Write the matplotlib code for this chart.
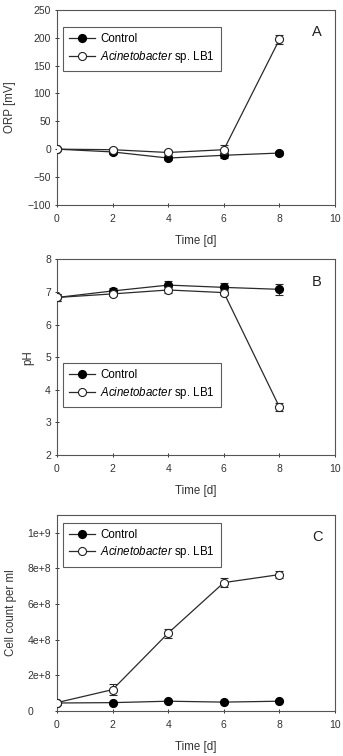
import numpy as np
import matplotlib
matplotlib.use("Agg")
import matplotlib.pyplot as plt

plt.rcParams['font.family'] = ['Liberation Sans', 'DejaVu Sans']
plt.rcParams['mathtext.fontset'] = 'custom'
plt.rcParams['mathtext.rm'] = 'Liberation Sans'
plt.rcParams['mathtext.it'] = 'Liberation Sans:italic'

days = [0, 2, 4, 6, 8]

orp_ctrl = [0, -5, -16, -11, -7]
orp_ctrl_err = [2, 3, 4, 4, 3]
orp_acin = [0, -1, -6, -1, 197]
orp_acin_err = [2, 3, 4, 8, 8]

ph_ctrl = [6.83, 7.03, 7.21, 7.14, 7.08]
ph_ctrl_err = [0.1, 0.1, 0.12, 0.14, 0.17]
ph_acin = [6.83, 6.94, 7.06, 6.98, 3.47]
ph_acin_err = [0.1, 0.06, 0.1, 0.08, 0.13]

cell_ctrl = [4.5e7, 4.7e7, 5.5e7, 5.0e7, 5.5e7]
cell_ctrl_err = [5e6, 5e6, 5e6, 5e6, 5e6]
cell_acin = [4.7e7, 1.2e8, 4.37e8, 7.2e8, 7.65e8]
cell_acin_err = [5e6, 3e7, 2.5e7, 2.5e7, 2e7]
# the "0" label sits left of the others in the original
cell_ticklabels = ['0      ', '2e+8', '4e+8', '6e+8', '8e+8', '1e+9']

fig = plt.figure(figsize=(3.43, 7.56), dpi=100)

panels = [
    dict(rect=[0.166, 0.729, 0.811, 0.258], ctrl=orp_ctrl, ce=orp_ctrl_err,
         acin=orp_acin, ae=orp_acin_err, ylim=(-100, 250),
         yticks=np.arange(-100, 251, 50), ylabel='ORP [mV]', letter='A',
         leg=(0.022, 0.913), labx=-0.147),
    dict(rect=[0.166, 0.398, 0.811, 0.259], ctrl=ph_ctrl, ce=ph_ctrl_err,
         acin=ph_acin, ae=ph_acin_err, ylim=(2, 8),
         yticks=np.arange(2, 9, 1), ylabel='pH', letter='B',
         leg=(0.022, 0.47), labx=-0.081),
    dict(rect=[0.166, 0.0595, 0.811, 0.2595], ctrl=cell_ctrl, ce=cell_ctrl_err,
         acin=cell_acin, ae=cell_acin_err, ylim=(0, 1.1e9),
         yticks=np.arange(0, 1.01e9, 2e8), ylabel='Cell count per ml', letter='C',
         leg=(0.022, 0.96), labx=-0.145),
]

for p in panels:
    ax = fig.add_axes(p['rect'])
    ax.errorbar(days, p['ctrl'], yerr=p['ce'], color='#2a2a2a', lw=0.9,
                marker='o', ms=5.6, mfc='black', mec='black', capsize=2.8,
                elinewidth=0.8, capthick=0.8, label='Control', zorder=2)
    ax.errorbar(days, p['acin'], yerr=p['ae'], color='#2a2a2a', lw=0.9,
                marker='o', ms=5.8, mfc='white', mec='#222222', mew=0.8,
                capsize=2.8, elinewidth=0.8, capthick=0.8,
                label='$\\it{Acinetobacter}$ sp. LB1', zorder=3)
    ax.set_xlim(0, 10)
    ax.set_ylim(*p['ylim'])
    ax.set_xticks(range(0, 11, 2))
    ax.set_yticks(p['yticks'])
    if p['letter'] == 'C':
        ax.set_yticklabels(cell_ticklabels)
    ax.tick_params(direction='inout', length=3, width=0.7, labelsize=7.5,
                   colors='#333333')
    ax.tick_params(axis='x', pad=5)
    ax.tick_params(axis='y', pad=2.8)
    for s in ax.spines.values():
        s.set_linewidth(0.8)
        s.set_color('#555555')
    ax.set_xlabel('Time [d]', fontsize=8.3, color='#333333', labelpad=8)
    ax.set_ylabel(p['ylabel'], fontsize=8.3, color='#333333')
    ax.yaxis.set_label_coords(p['labx'], 0.5)
    ax.text(0.935, 0.885, p['letter'], transform=ax.transAxes, fontsize=10.5,
            ha='center', va='center', color='#222222')
    handles, labels = ax.get_legend_handles_labels()
    handles = [h[0] for h in handles]
    leg = ax.legend(handles, labels, loc='upper left', bbox_to_anchor=p['leg'],
                    fontsize=8.3, frameon=True, fancybox=False, handlelength=2.2,
                    borderpad=0.55, labelspacing=0.3, handletextpad=0.45,
                    borderaxespad=0)
    leg.get_frame().set_edgecolor('#333333')
    leg.get_frame().set_linewidth(0.8)

fig.savefig('out.png', dpi=100)
